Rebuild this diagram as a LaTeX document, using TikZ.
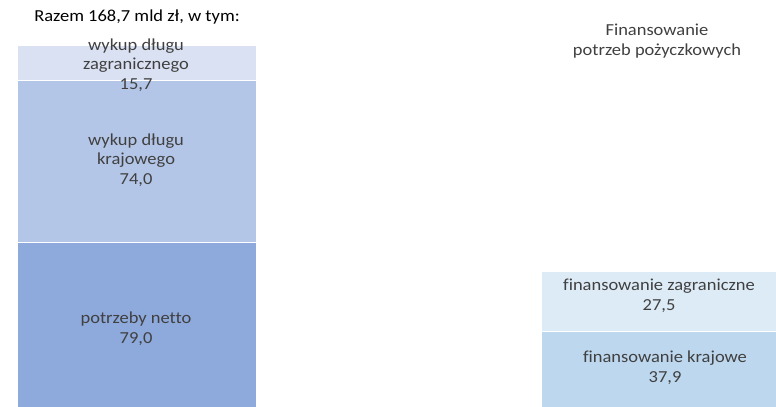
\documentclass[tikz,border=0pt]{standalone}
\usepackage{fontspec}
\setmainfont{Carlito}[FakeStretch=1.1, Ligatures=NoCommon]
\definecolor{segA}{HTML}{D9E1F2}
\definecolor{segB}{HTML}{B4C6E7}
\definecolor{segC}{HTML}{8EA9DB}
\definecolor{segD}{HTML}{DDEBF7}
\definecolor{segE}{HTML}{BDD7EE}
\definecolor{txt}{HTML}{404040}
\tikzset{
  seg/.style={draw=white, line width=0.6pt},
  lbl/.style={align=center, text=txt, font=\fontsize{12.6}{14.8}\selectfont, inner sep=0pt},
}
\begin{document}
\begin{tikzpicture}[x=0.75pt, y=-0.75pt]
\useasboundingbox (0,0) rectangle (776,407);
% left bar
\path[seg, fill=segA] (17.5,45) rectangle (256,80);
\path[seg, fill=segB] (17.5,80) rectangle (256,242);
\path[seg, fill=segC] (17.5,242) rectangle (256,410);
% right bar
\path[seg, fill=segD] (541,271) rectangle (776,331);
\path[seg, fill=segE] (541,331) rectangle (776,410);
% titles
\node[lbl, text=black] (razem) at (137,17) {Razem 168,7 mld zł, w tym:};
\node[lbl] (fin) at (657,41) {Finansowanie\\potrzeb pożyczkowych};
% labels
\node[lbl] (wz) at (136,65) {wykup długu\\zagranicznego\\15,7};
\node[lbl] (wk) at (136,160) {wykup długu\\krajowego\\74,0};
\node[lbl] (pn) at (136,329) {potrzeby netto\\79,0};
\node[lbl] (fz) at (659,296) {finansowanie zagraniczne\\27,5};
\node[lbl] (fk) at (665,368) {finansowanie krajowe\\37,9};
\end{tikzpicture}
\end{document}
